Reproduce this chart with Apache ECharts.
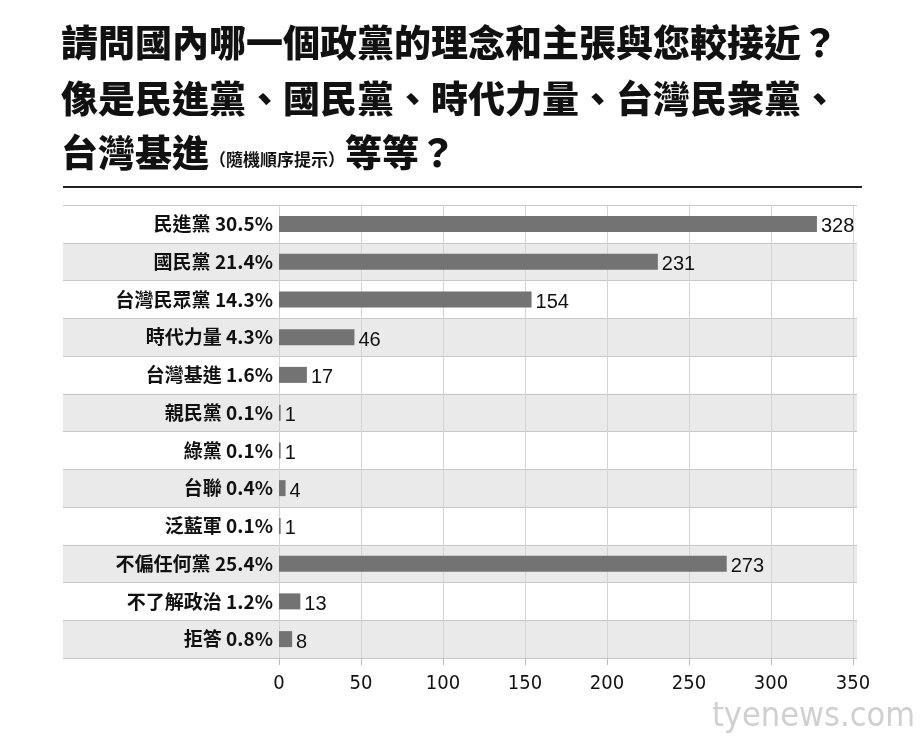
<!DOCTYPE html>
<html><head><meta charset="utf-8">
<script src="https://cdn.jsdelivr.net/npm/echarts@6/dist/echarts.min.js"></script>
<style>body{margin:0;background:#fff}#c{width:923px;height:746px}</style>
</head><body><div id="c"></div>
<script>
const categories = ['民進黨','國民黨','台灣民眾黨','時代力量','台灣基進','親民黨','綠黨','台聯','泛藍軍','不偏任何黨','不了解政治','拒答'];
const percents = ['30.5%','21.4%','14.3%','4.3%','1.6%','0.1%','0.1%','0.4%','0.1%','25.4%','1.2%','0.8%'];
const counts = [328,231,154,46,17,1,1,4,1,273,13,8];
const xTicks = [0,50,100,150,200,250,300,350];

const chart = echarts.init(document.getElementById('c'));
const cjk = '"Noto Sans CJK TC", sans-serif';
const tf = '900 37px "Noto Sans CJK TC"';
chart.setOption({
  animation:false,
  graphic:[
    {type:'text',left:61,top:24,style:{text:'請問國內哪一個政黨的理念和主張與您較接近？',font:tf,fill:'#111'}},
    {type:'text',left:61,top:80,style:{text:'像是民進黨、國民黨、時代力量、台灣民衆黨、',font:tf,fill:'#111'}},
    {type:'text',left:61,top:134,style:{rich:{a:{font:tf,fill:'#111'},b:{font:'bold 17px "Noto Sans CJK TC"',fill:'#111',padding:[14,0,0,0]}},text:'{a|台灣基進}{b|（隨機順序提示）}{a|等等？}'}},
    {type:'line',shape:{x1:63,y1:187,x2:862,y2:187},style:{stroke:'#222',lineWidth:2}},
    {type:'text',right:8,top:700,style:{text:'tyenews.com',font:'34px "DejaVu Sans Condensed"',fill:'#d0d0d0'}}
  ],
  grid:[
    {left:63,right:66,top:205,bottom:88},
    {left:279,right:70,top:205,bottom:88}
  ],
  xAxis:[
    {gridIndex:0,type:'value',show:false,min:0,max:1},
    {gridIndex:1,type:'value',min:xTicks[0],max:xTicks[xTicks.length-1],interval:50,
     axisLine:{show:false},axisTick:{show:true,length:7,lineStyle:{color:'#bbb'}},
     splitLine:{show:true,lineStyle:{color:'#d4d4d4'}},
     axisLabel:{color:'#111',fontSize:20,fontFamily:'"DejaVu Sans Condensed"',margin:16}}
  ],
  yAxis:[
    {gridIndex:0,type:'category',inverse:true,data:categories,axisLabel:{show:false},axisTick:{show:false},
     axisLine:{show:false},splitLine:{show:true,lineStyle:{color:'#c8c8c8'}},
     splitArea:{show:true,areaStyle:{color:['#ffffff','#ebeaea']}}},
    {gridIndex:1,type:'category',inverse:true,data:categories,axisTick:{show:false},
     axisLine:{show:true,lineStyle:{color:'#d4d4d4'}},
     axisLabel:{color:'#111',fontSize:19,fontWeight:'bold',fontFamily:cjk,margin:6,
       formatter:(v,i)=>v+' '+percents[i]}}
  ],
  series:[{type:'bar',xAxisIndex:1,yAxisIndex:1,data:counts,barWidth:16,
    itemStyle:{color:'#737373'},
    label:{show:true,position:'right',distance:4,color:'#111',fontSize:20,fontFamily:'Liberation Sans',offset:[0,3]}}]
});
</script></body></html>
